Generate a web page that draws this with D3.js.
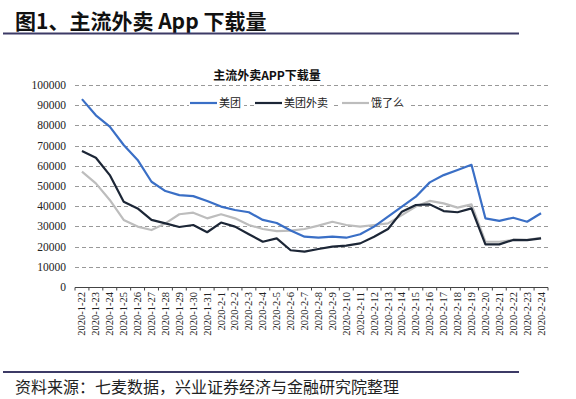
<!DOCTYPE html>
<html>
<head>
<meta charset="utf-8">
<script src="https://cdn.jsdelivr.net/npm/d3@7"></script>
<style>
  body { margin: 0; background: #fff; }
  svg { display: block; }
</style>
</head>
<body>
<svg id="chart" width="576" height="399"></svg>
<script>
var dates = ["2020-1-22","2020-1-23","2020-1-24","2020-1-25","2020-1-26","2020-1-27","2020-1-28",
  "2020-1-29","2020-1-30","2020-1-31","2020-2-1","2020-2-2","2020-2-3","2020-2-4","2020-2-5",
  "2020-2-6","2020-2-7","2020-2-8","2020-2-9","2020-2-10","2020-2-11","2020-2-12","2020-2-13",
  "2020-2-14","2020-2-15","2020-2-16","2020-2-17","2020-2-18","2020-2-19","2020-2-20",
  "2020-2-21","2020-2-22","2020-2-23","2020-2-24"];

var meituan = [93000,85000,79400,70300,62900,52100,47500,45500,45000,42600,39800,38100,37000,33200,31700,
  28000,24900,24400,24900,24400,26100,29900,34800,39800,44700,51800,55400,57900,60500,
  34000,32700,34300,32300,36500];

var meituanWaimai = [67300,64000,55400,42200,38900,33200,31500,29700,30700,27100,31900,29900,26100,22400,24100,
  18200,17500,18800,20000,20500,21600,24900,28700,37300,40600,40900,37600,37000,38900,
  21100,21100,23300,23200,24100];

var eleme = [57100,51300,43100,33200,29900,28200,31500,36000,36800,34000,36000,34000,30700,28700,27700,
  27900,28700,30400,32300,30700,29900,30700,31500,35600,39800,42600,41400,39300,40900,
  22400,22400,23300,23300,24400];

var yTicks = d3.range(0, 100001, 10000);

var series = [
  { name: "美团", values: meituan, color: "#3a6fc6" },
  { name: "美团外卖", values: meituanWaimai, color: "#1c2636" },
  { name: "饿了么", values: eleme, color: "#bdbdbd" }
];

var svg = d3.select("#chart");
var cjk = "'Noto Sans CJK SC', sans-serif";
var serif = "'Liberation Serif', 'DejaVu Serif', serif";

// header
svg.append("text")
  .attr("x", 15).attr("y", 29)
  .style("font-family", cjk).style("font-weight", "bold").style("font-size", "21px")
  .attr("fill", "#111")
  .text("图1、主流外卖 App 下载量");
svg.append("line")
  .attr("x1", 3).attr("x2", 519).attr("y1", 33.5).attr("y2", 33.5)
  .attr("stroke", "#3c3a66").attr("stroke-width", 2);

// footer
svg.append("line")
  .attr("x1", 3).attr("x2", 519).attr("y1", 372).attr("y2", 372)
  .attr("stroke", "#3c3a66").attr("stroke-width", 2);
svg.append("text")
  .attr("x", 15).attr("y", 393)
  .style("font-family", cjk).style("font-size", "16px")
  .attr("fill", "#222")
  .text("资料来源：七麦数据，兴业证券经济与金融研究院整理");

// scales
var x = d3.scaleBand().domain(dates).range([75, 548]);
var y = d3.scaleLinear().domain([0, 100000]).range([287, 85]);

// gridlines
svg.append("g")
  .selectAll("line")
  .data(yTicks.slice(1))
  .join("line")
  .attr("x1", 75).attr("x2", 548)
  .attr("y1", function (d) { return Math.round(y(d)) + 0.5; })
  .attr("y2", function (d) { return Math.round(y(d)) + 0.5; })
  .attr("stroke", "#999")
  .attr("stroke-dasharray", "4,3");

// y axis labels
svg.append("g")
  .selectAll("text")
  .data(yTicks)
  .join("text")
  .attr("x", 66)
  .attr("y", function (d) { return y(d) + 4; })
  .attr("text-anchor", "end")
  .style("font-family", serif).style("font-size", "11.5px")
  .attr("fill", "#222")
  .text(function (d) { return d; });

// x axis
var xAxis = d3.axisBottom(x).tickSize(3).tickFormat("");
var gx = svg.append("g")
  .attr("transform", "translate(0," + (y(0) + 0.5) + ")")
  .call(xAxis);
gx.select(".domain").attr("d", "M75,0H548").attr("stroke", "#444");
gx.selectAll(".tick line")
  .attr("transform", function () { return "translate(" + (-x.bandwidth() / 2) + ",0)"; })
  .attr("stroke", "#444");
gx.append("line")
  .attr("x1", 548).attr("x2", 548).attr("y1", 0).attr("y2", 3).attr("stroke", "#444");

svg.append("g")
  .selectAll("text")
  .data(dates)
  .join("text")
  .attr("transform", function (d) {
    return "translate(" + (x(d) + x.bandwidth() / 2 + 3.5) + ",292) rotate(-90)";
  })
  .attr("text-anchor", "end")
  .style("font-family", serif).style("font-size", "10.5px")
  .attr("fill", "#222")
  .text(function (d) { return d; });

// lines
var line = d3.line()
  .x(function (d, i) { return x(dates[i]) + x.bandwidth() / 2; })
  .y(function (d) { return y(d); });

svg.append("g")
  .selectAll("path")
  .data(series.slice().reverse())
  .join("path")
  .attr("d", function (s) { return line(s.values); })
  .attr("fill", "none")
  .attr("stroke", function (s) { return s.color; })
  .attr("stroke-width", 2.2)
  .attr("stroke-linejoin", "round");

// chart title
svg.append("text")
  .attr("x", 267).attr("y", 80)
  .attr("text-anchor", "middle")
  .style("font-family", cjk).style("font-weight", "bold").style("font-size", "12px")
  .attr("fill", "#111")
  .text("主流外卖APP下载量");

// legend
var legendX = [189, 254, 341];
var legend = svg.append("g")
  .selectAll("g")
  .data(series)
  .join("g")
  .attr("transform", function (d, i) { return "translate(" + legendX[i] + ",103)"; });
legend.append("rect")
  .attr("x", 0).attr("y", -8)
  .attr("width", function (d) { return 31 + d.name.length * 12; })
  .attr("height", 16)
  .attr("fill", "#fff");
legend.append("line")
  .attr("x1", 1).attr("x2", 28).attr("y1", 0).attr("y2", 0)
  .attr("stroke", function (d) { return d.color; })
  .attr("stroke-width", 2.2);
legend.append("text")
  .attr("x", 30).attr("y", 4)
  .style("font-family", cjk).style("font-size", "11px")
  .attr("fill", "#222")
  .text(function (d) { return d.name; });
</script>
</body>
</html>
